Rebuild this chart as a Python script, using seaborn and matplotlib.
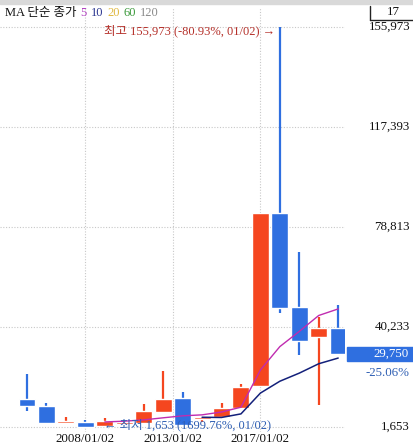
import numpy as np
import pandas as pd
import matplotlib
matplotlib.use('Agg')
import matplotlib.pyplot as plt
from matplotlib.patches import Rectangle
import seaborn as sns

# yearly candles, 2005 .. 2021
years = list(range(2005, 2022))
opens = [12455, 9755, 3196, 3580, 2039, 2800, 3196, 7440, 12840, 4740, 5511, 8983, 17470, 84213, 47950, 36200, 39696]
highs = [22100, 10912, 5511, 4354, 5125, 4200, 10527, 23258, 15156, 5600, 10912, 18242, 84213, 155973, 69168, 44091, 48720]
lows = [7826, 3100, 3196, 1700, 1653, 2300, 3196, 7440, 2425, 3580, 5511, 8983, 17470, 45635, 29431, 10140, 29750]
closes = [9755, 3312, 3968, 1800, 4000, 3500, 7826, 12455, 2425, 5500, 8983, 17085, 84213, 47564, 34832, 39696, 29750]

# moving averages
ma5_start = 4
ma5 = [3600, 3900, 4400, 5200, 5960, 6340, 7440, 9290, 23640, 32670, 38540, 44680, 47210]
ma10_start = 9
ma10 = [5410, 5330, 6710, 14740, 19310, 22440, 26060, 28250]

ytick_vals = [1653, 40233, 78813, 117393, 155973]
xtick_pos = [3, 7.5, 12]
xtick_labels = ['2008/01/02', '2013/01/02', '2017/01/02']

UP = '#f5461f'
DOWN = '#2f6fe0'
SERIF = ['Liberation Serif', 'Noto Sans CJK KR', 'DejaVu Sans']

sns.set_style('white')
plt.rcParams['font.family'] = SERIF

W, H = 413, 445
fig = plt.figure(figsize=(W / 100, H / 100), dpi=100)
# plot area: x 0..345 px, y 8..432 px
ax = fig.add_axes([0, 1 - 432 / H, 345 / W, 424 / H])

df = pd.DataFrame({'year': years, 'open': opens, 'high': highs, 'low': lows, 'close': closes})
df['i'] = np.arange(len(df))
df['up'] = df.close >= df.open
colors = np.where(df.up, UP, DOWN)

# wicks
ax.vlines(df.i, df.low, df.high, colors=colors, linewidth=1.6, zorder=2)
# bodies
bottom = df[['open', 'close']].min(axis=1)
height = (df.open - df.close).abs().clip(lower=700)
ax.bar(df.i, height, bottom=bottom, width=0.87, color=colors, zorder=3)

ma5_df = pd.DataFrame({'i': np.arange(ma5_start, ma5_start + len(ma5)), 'v': ma5})
ma10_df = pd.DataFrame({'i': np.arange(ma10_start, ma10_start + len(ma10)), 'v': ma10})
sns.lineplot(data=ma5_df, x='i', y='v', color='#c02cb0', linewidth=1.0, ax=ax, zorder=4)
sns.lineplot(data=ma10_df, x='i', y='v', color='#13207a', linewidth=1.1, ax=ax, zorder=4)

ax.set_xlim(-1.39, 16.35)
ax.set_ylim(-276, 163303)
for s in ax.spines.values():
    s.set_visible(False)

grid_kw = dict(color='#c8c8c8', linewidth=0.8, linestyle=(0, (1, 1.5)), zorder=0)
for v in ytick_vals:
    ax.axhline(v, **grid_kw)
for p in xtick_pos:
    ax.axvline(p, **grid_kw)

ax.set_xticks(xtick_pos)
ax.set_xticklabels(xtick_labels, fontsize=9.3, color='#111111')
ax.tick_params(axis='x', length=0, pad=1)
ax.set_yticks([])
ax.set_xlabel('')
ax.set_ylabel('')

# right-hand price labels
ytr = ax.get_yaxis_transform()
for v in ytick_vals:
    ax.text(410 / 345, v, f'{v:,}', transform=ytr, ha='right', va='center',
            fontsize=9.3, color='#111111', clip_on=False)

# last price box
last = closes[-1]
ax.add_patch(Rectangle((347 / 345, last - 2700), 70 / 345, 5300, transform=ytr,
                       color='#2f6fe0', clip_on=False, zorder=5))
ax.text(409 / 345, last, f'{last:,}', transform=ytr, ha='right', va='center',
        fontsize=9.3, color='white', clip_on=False, zorder=6)
chg = (last / closes[-2] - 1) * 100
ax.text(410 / 345, last - 7200, f'{chg:.2f}%', transform=ytr, ha='right', va='center',
        fontsize=9.3, color='#2f5fb3', clip_on=False)

# high / low annotations
hi = max(highs)
hi_i = highs.index(hi)
ax.text(hi_i - 0.25, hi - 1500, f'최고 {hi:,} ({(last / hi - 1) * 100:.2f}%, 01/02) →',
        ha='right', va='center', fontsize=9, color='#b5302a', zorder=6)
lo = min(lows)
lo_i = lows.index(lo)
ax.text(lo_i - 0.05, lo + 700, f'← 최저 {lo:,} ({(last / lo - 1) * 100:.2f}%, 01/02)',
        ha='left', va='center', fontsize=9, color='#2f5fb3', zorder=6)

# header: gray strip, MA legend, bar count box
fig.patches.append(Rectangle((0, 1 - 4 / H), 1, 4 / H, transform=fig.transFigure,
                             color='#d9d9d9', zorder=0))
x0 = 5
t = fig.text(x0 / W, 1 - 13 / H, 'MA 단순 종가', fontsize=9, color='#111111', va='center')
legend_items = [('5', '#b03cc0'), ('10', '#2a3590'), ('20', '#e0b840'), ('60', '#3c9a3c'), ('120', '#8a8a8a')]
fig.canvas.draw()
r = fig.canvas.get_renderer()
xx = t.get_window_extent(r).x1 + 4
for lab, c in legend_items:
    tt = fig.text(xx / W, 1 - 13 / H, lab, fontsize=9, color=c, va='center')
    xx = tt.get_window_extent(r).x1 + 4

fig.add_artist(plt.Line2D([370 / W, 370 / W], [1 - 6 / H, 1 - 20 / H], color='#222222', linewidth=1.0))
fig.add_artist(plt.Line2D([370 / W, 413 / W], [1 - 20 / H, 1 - 20 / H], color='#222222', linewidth=1.0))
fig.text(393 / W, 1 - 12 / H, '17', fontsize=9.3, color='#111111', ha='center', va='center')

fig.savefig('out.png', dpi=100)
